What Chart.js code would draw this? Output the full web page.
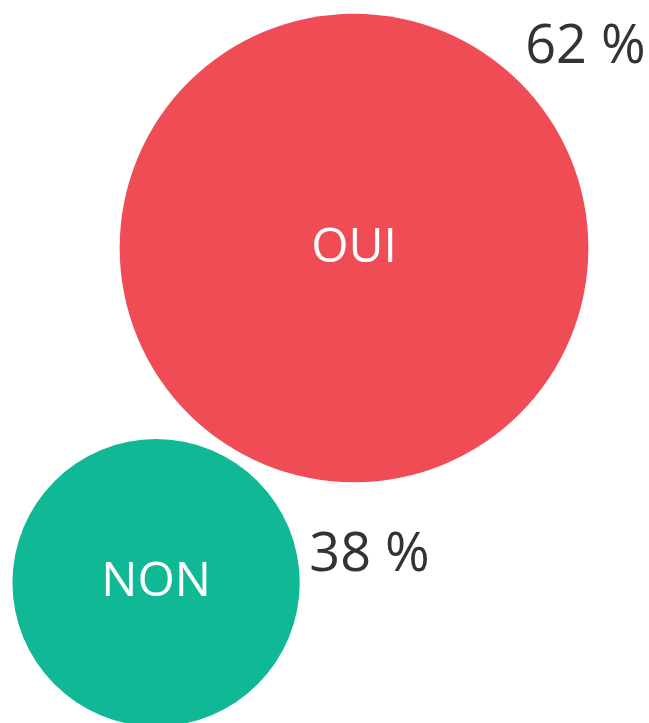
<!DOCTYPE html>
<html>
<head>
<meta charset="utf-8">
<script src="https://cdn.jsdelivr.net/npm/chart.js@4/dist/chart.umd.min.js"></script>
<style>
  html, body { margin: 0; padding: 0; background: #fff; }
  #wrap { width: 649px; height: 723px; }
</style>
</head>
<body>
<div id="wrap"><canvas id="bubbleChart"></canvas></div>
<script>
// Réponses (libellés + pourcentages)
const labels = ["OUI", "NON"];
const values = [62, 38];
const colors = ["#EF4C56", "#10B896"];
// position des bulles (en % de la zone du graphique)
const bubbleX = [54.55, 24.05];
const bubbleY = [34.3, 80.6];

const radiusPerPoint = 3.78; // rayon en px pour 1 %

// Plugin pour écrire les libellés dans et à côté des bulles
const bubbleLabels = {
    id: "bubbleLabels",
    afterDatasetsDraw(chart, args, opts) {
        const ctx = chart.ctx;
        const meta = chart.getDatasetMeta(0);
        meta.data.forEach((el, i) => {
            const r = el.options.radius;
            ctx.save();
            ctx.textAlign = "center";
            ctx.textBaseline = "middle";
            ctx.fillStyle = "#ffffff";
            ctx.font = opts.nameFont;
            ctx.fillText(labels[i], el.x, el.y);
            ctx.fillStyle = "#333333";
            ctx.font = opts.valueFont;
            const off = opts.valueOffsets[i];
            ctx.fillText(values[i] + " %", el.x + off[0] * r, el.y + off[1] * r);
            ctx.restore();
        });
    },
};

const chart = new Chart(document.getElementById("bubbleChart"), {
    type: "bubble",
    data: {
        labels: labels,
        datasets: [{
            data: values.map((v, i) => ({ x: bubbleX[i], y: bubbleY[i], v: v })),
            backgroundColor: colors,
            borderWidth: 0,
            hoverBorderWidth: 0,
            radius: (ctx) => ctx.raw.v * radiusPerPoint,
            hoverRadius: 0,
            clip: false,
        }],
    },
    options: {
        responsive: true,
        maintainAspectRatio: false,
        animation: false,
        layout: { padding: 0, autoPadding: false },
        scales: {
            x: { display: false, min: 0, max: 100 },
            y: { display: false, min: 0, max: 100, reverse: true },
        },
        plugins: {
            legend: { display: false },
            tooltip: { enabled: false },
            bubbleLabels: {
                nameFont: "48px 'Open Sans'",
                valueFont: "54px 'Open Sans'",
                valueOffsets: [[0.987, -0.855], [1.486, -0.19]],
            },
        },
    },
    plugins: [bubbleLabels],
});
</script>
</body>
</html>
